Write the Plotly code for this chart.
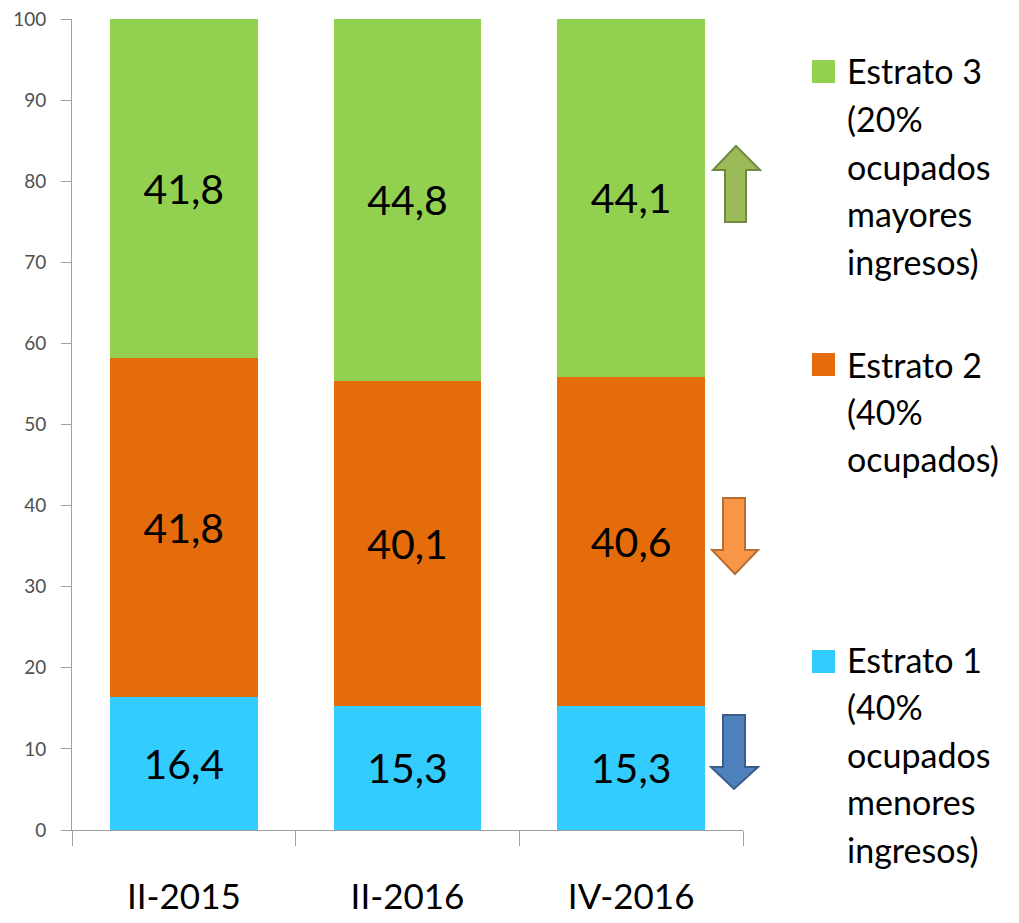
import plotly.graph_objects as go

categories = ["II-2015", "II-2016", "IV-2016"]
estrato1 = [16.4, 15.3, 15.3]
estrato2 = [41.8, 40.1, 40.6]
estrato3 = [41.8, 44.8, 44.1]
series_names = ["Estrato 1", "Estrato 2", "Estrato 3"]
legend_lines = {
    "Estrato 3": ["Estrato 3", "(20%", "ocupados", "mayores", "ingresos)"],
    "Estrato 2": ["Estrato 2", "(40%", "ocupados)"],
    "Estrato 1": ["Estrato 1", "(40%", "ocupados", "menores", "ingresos)"],
}
y_ticks = list(range(0, 101, 10))

colors = {"Estrato 1": "#33CCFF", "Estrato 2": "#E46C0A", "Estrato 3": "#92D050"}
FONT = "Lato, 'Open Sans', sans-serif"

# page body has an 8px margin; lay out in reference pixel coordinates
OFF = 8
W, H = 1019 - OFF, 923 - OFF
X0, X1, Y0, Y1 = 72, 743, 19, 830          # plot area in reference pixels
ML, MT = X0 - OFF, Y0 - OFF
MR, MB = W - (X1 - OFF), H - (Y1 - OFF)
PW, PH = X1 - X0, Y1 - Y0


def px(x):
    return (x - X0) / PW


def py(y):
    return (Y1 - y) / PH


def fmt(v):
    return f"{v:.1f}".replace(".", ",")


fig = go.Figure()
for name, vals in zip(series_names, [estrato1, estrato2, estrato3]):
    fig.add_trace(go.Bar(
        x=categories, y=vals, name=name,
        marker=dict(color=colors[name], line=dict(width=0)),
        text=[fmt(v) for v in vals], textposition="inside",
        insidetextanchor="middle", textangle=0,
        textfont=dict(size=41, color="black", family=FONT),
        showlegend=False,
    ))

fig.update_layout(
    barmode="stack", bargap=0.34,
    width=W, height=H,
    margin=dict(l=ML, r=MR, t=MT, b=MB, pad=0, autoexpand=False),
    plot_bgcolor="white", paper_bgcolor="white",
    font=dict(family=FONT),
)
fig.update_yaxes(
    range=[0, 100], tickvals=y_ticks, showgrid=False, zeroline=False,
    showline=True, linecolor="#A0A0A0", linewidth=1,
    ticks="outside", ticklen=10, tickcolor="#A0A0A0",
    tickfont=dict(size=19, color="#505050", family=FONT),
    ticklabelstandoff=11,
    ticklabeloverflow="allow", automargin=False,
)
fig.update_xaxes(
    showline=True, linecolor="#A0A0A0", linewidth=1,
    ticks="outside", tickson="boundaries", ticklen=15, tickcolor="#A0A0A0",
    tickfont=dict(size=35, color="black", family=FONT),
    ticklabelstandoff=36, ticklabeloverflow="allow", automargin=False,
)

# legend (manual, to match line spacing)
legend_pos = {"Estrato 3": (71, 60), "Estrato 2": (364, 353), "Estrato 1": (659, 650)}
line_gap = 47.5
for name, lines in legend_lines.items():
    y0, sq = legend_pos[name]
    fig.add_shape(type="rect", xref="paper", yref="paper",
                  x0=px(812), x1=px(835), y0=py(sq + 23), y1=py(sq),
                  fillcolor=colors[name], line=dict(width=0))
    for i, t in enumerate(lines):
        fig.add_annotation(text=t, xref="paper", yref="paper",
                           x=px(845), y=py(y0 + i * line_gap),
                           xanchor="left", yanchor="middle", showarrow=False,
                           font=dict(size=34, color="black", family=FONT))

# trend arrows
def arrow_path(pts):
    return "M " + " L ".join(f"{px(x)},{py(y)}" for x, y in pts) + " Z"

up_green = [(725, 222), (725, 170), (713, 170), (736, 146), (760, 170), (746, 170), (746, 222)]
down_orange = [(723, 498), (745, 498), (745, 550), (758, 550), (735, 574), (712, 550), (723, 550)]
down_blue = [(723, 715), (745, 715), (745, 767), (758, 767), (734, 789), (711, 767), (723, 767)]
for pts, fill, border in [(up_green, "#9BBB59", "#71893F"),
                          (down_orange, "#F79646", "#B66D31"),
                          (down_blue, "#4F81BD", "#385D8A")]:
    fig.add_shape(type="path", xref="paper", yref="paper", path=arrow_path(pts),
                  fillcolor=fill, line=dict(color=border, width=2))

fig.write_html("out.html")
